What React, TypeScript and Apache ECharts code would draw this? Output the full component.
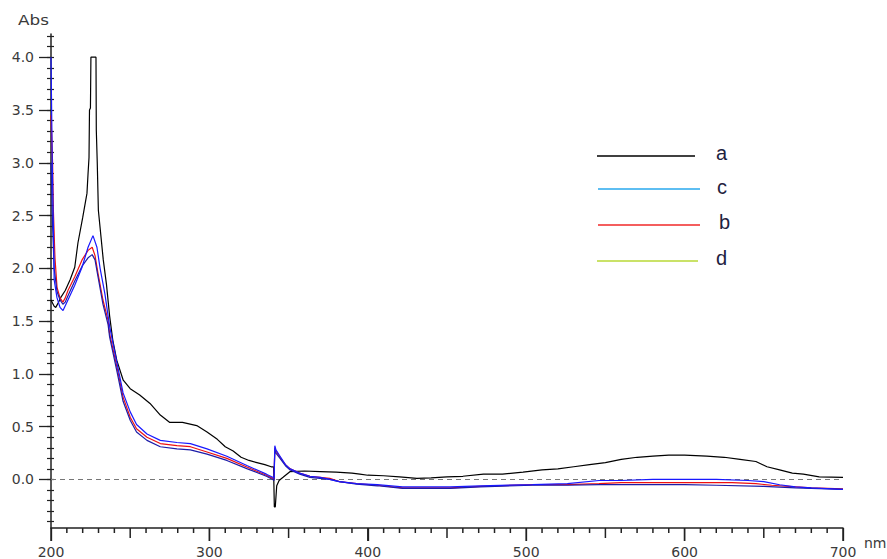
import React, { useEffect, useRef } from "react";
import * as echarts from "echarts";

// ---- data ----
const nmA = [200, 202, 203, 204.5, 206, 209, 212, 215, 217, 220, 222.7, 223.4, 224, 224.3, 224.9, 225.2, 228.4, 228.6, 229.2, 229.9, 233, 235, 237, 239, 241.5, 245.6, 250, 256, 262.5, 269, 275, 283, 292, 298.5, 305, 310, 315, 320, 325, 330, 335, 339, 340.5, 341, 341.6, 342.5, 344, 346.5, 351, 360, 370, 380, 390, 395, 400, 410, 420, 431, 440, 450, 460, 473, 485, 498, 510, 520, 530, 540, 550, 560, 570, 580, 590, 600, 614, 625, 635, 645, 652, 660, 668, 675, 685, 700];
const absA = [1.70, 1.64, 1.63, 1.67, 1.72, 1.79, 1.89, 2.01, 2.24, 2.48, 2.71, 2.90, 3.05, 3.50, 3.52, 4.00, 4.00, 3.31, 3.00, 2.55, 2.08, 1.85, 1.55, 1.32, 1.13, 0.94, 0.86, 0.80, 0.72, 0.61, 0.54, 0.54, 0.51, 0.45, 0.38, 0.31, 0.27, 0.21, 0.18, 0.16, 0.14, 0.12, 0.12, -0.26, -0.26, -0.06, -0.01, 0.02, 0.075, 0.08, 0.075, 0.07, 0.06, 0.05, 0.04, 0.035, 0.025, 0.01, 0.015, 0.025, 0.03, 0.05, 0.05, 0.07, 0.09, 0.10, 0.12, 0.14, 0.16, 0.19, 0.21, 0.22, 0.23, 0.23, 0.22, 0.21, 0.19, 0.17, 0.12, 0.09, 0.06, 0.05, 0.025, 0.02];

const nmB = [200, 201, 201.5, 202.5, 203.8, 205.7, 207.5, 209, 210.7, 215, 219.6, 223.4, 226, 227.8, 229.7, 232.8, 236, 237, 241.7, 245.5, 250, 254, 260.6, 269, 279.5, 288, 298.5, 311, 324, 336, 340, 340.8, 341.3, 342, 344.6, 348, 351, 357, 363.5, 376, 382, 393, 406, 422, 452, 471, 504, 526, 546, 560, 600, 630, 645, 655, 670, 680, 700];
const absB = [3.45, 3.00, 2.55, 2.10, 1.82, 1.72, 1.68, 1.72, 1.79, 1.92, 2.08, 2.17, 2.20, 2.12, 1.95, 1.70, 1.51, 1.38, 1.06, 0.78, 0.59, 0.48, 0.40, 0.34, 0.32, 0.31, 0.26, 0.20, 0.115, 0.04, 0.01, 0.00, 0.30, 0.27, 0.21, 0.14, 0.10, 0.06, 0.03, 0.01, -0.02, -0.04, -0.055, -0.08, -0.08, -0.065, -0.05, -0.05, -0.04, -0.03, -0.03, -0.03, -0.04, -0.055, -0.07, -0.08, -0.09];

const nmC = [200, 200.8, 201.5, 202, 203.8, 205.7, 207.6, 210.7, 215, 219.6, 223.4, 226.5, 229, 231, 234, 237, 241.7, 245.5, 250, 254, 260.6, 269, 279.5, 288, 298.5, 311, 324, 336, 340, 340.8, 341.3, 342, 344.6, 348, 351, 357, 363.5, 370, 376, 382, 393, 406, 422, 452, 471, 504, 526, 546, 560, 580, 600, 620, 640, 650, 660, 670, 680, 700];
const absC = [4.00, 3.00, 2.40, 1.89, 1.72, 1.63, 1.60, 1.70, 1.84, 2.01, 2.20, 2.31, 2.20, 2.00, 1.76, 1.45, 1.10, 0.82, 0.64, 0.52, 0.43, 0.37, 0.35, 0.34, 0.29, 0.22, 0.13, 0.05, 0.02, 0.01, 0.32, 0.28, 0.22, 0.14, 0.10, 0.06, 0.03, 0.02, 0.00, -0.02, -0.04, -0.05, -0.07, -0.07, -0.06, -0.05, -0.04, -0.01, -0.01, 0.00, 0.00, 0.00, -0.01, -0.02, -0.05, -0.07, -0.08, -0.095];

const nmD = [200, 201, 202, 203.8, 205.7, 207.5, 209, 210.7, 215, 219.6, 223.4, 226, 227.8, 229.7, 232.8, 236, 237, 241.7, 245.5, 250, 254, 260.6, 269, 279.5, 288, 298.5, 311, 324, 336, 340, 340.8, 341.3, 342, 344.6, 348, 351, 357, 363.5, 376, 382, 393, 406, 422, 452, 471, 504, 526, 546, 560, 600, 620, 650, 670, 700];
const absD = [3.00, 2.40, 2.00, 1.78, 1.70, 1.66, 1.68, 1.74, 1.88, 2.02, 2.10, 2.13, 2.08, 1.92, 1.66, 1.47, 1.35, 1.02, 0.74, 0.56, 0.45, 0.37, 0.31, 0.29, 0.28, 0.24, 0.18, 0.10, 0.03, 0.00, -0.01, 0.28, 0.25, 0.20, 0.13, 0.09, 0.05, 0.02, 0.00, -0.02, -0.045, -0.06, -0.085, -0.085, -0.07, -0.055, -0.055, -0.05, -0.05, -0.05, -0.055, -0.065, -0.08, -0.095];

// axis ticks (nm): labels every 100, medium ticks every 50, minor ticks every 10
const X_MIN = 200;
const X_MAX = 700;
const xLabelStep = 100;
const xMajorTickValues = [200, 300, 400, 500, 600, 700];
const xMidTickValues = [250, 350, 450, 550, 650];
const xMinorTickValues = [210, 220, 230, 240, 260, 270, 280, 290, 310, 320, 330, 340, 360, 370, 380, 390, 410, 420, 430, 440, 460, 470, 480, 490, 510, 520, 530, 540, 560, 570, 580, 590, 610, 620, 630, 640, 660, 670, 680, 690];
const yLabelValues = [0.0, 0.5, 1.0, 1.5, 2.0, 2.5, 3.0, 3.5, 4.0];
const yMinorTickValues = [-0.4, -0.3, -0.2, -0.1, 0.0, 0.1, 0.2, 0.3, 0.4, 0.5, 0.6, 0.7, 0.8, 0.9, 1.0, 1.1, 1.2, 1.3, 1.4, 1.5, 1.6, 1.7, 1.8, 1.9, 2.0, 2.1, 2.2, 2.3, 2.4, 2.5, 2.6, 2.7, 2.8, 2.9, 3.0, 3.1, 3.2, 3.3, 3.4, 3.5, 3.6, 3.7, 3.8, 3.9, 4.0, 4.1, 4.2];

const legendNames = ["a", "c", "b", "d"];

const pairs = (xs: number[], ys: number[]) => xs.map((x, i) => [x, ys[i]]);

const FONT = '"DejaVu Sans", Verdana, sans-serif';
const LEGEND_FONT = '"Liberation Sans", Arial, sans-serif';
const AXIS_COLOR = "#222";
const LABEL_COLOR = "#3a3a3a";
const Y_MIN = -0.46;
const Y_MAX = 4.22;

export default function App() {
  const ref = useRef<HTMLDivElement>(null);
  useEffect(() => {
    if (!ref.current) return;
    const chart = echarts.init(ref.current, null, { renderer: "svg" });

    const gridRect = { left: 51, top: 34, width: 792, height: 494, containLabel: false, outerBoundsMode: "none" };
    const baseY = { type: "value", min: Y_MIN, max: Y_MAX, position: "left", splitLine: { show: false } };

    const legendColors = ["#000000", "#29a8ee", "#f02828", "#b8d836"];
    const legendLines = [
      { x1: 597, x2: 695, y: 156, tx: 716, ty: 153 },
      { x1: 598, x2: 700, y: 189, tx: 717, ty: 187 },
      { x1: 598, x2: 700, y: 225, tx: 719, ty: 222 },
      { x1: 597, x2: 698, y: 261, tx: 716, ty: 258 },
    ];
    const legendGraphics: any[] = [];
    legendNames.forEach((name, i) => {
      const p = legendLines[i];
      legendGraphics.push({
        type: "line",
        shape: { x1: p.x1, y1: p.y, x2: p.x2, y2: p.y },
        style: { stroke: legendColors[i], lineWidth: 1.6 },
      });
      legendGraphics.push({
        type: "text",
        x: p.tx,
        y: p.ty,
        style: { text: name, fontSize: 20, fontFamily: LEGEND_FONT, fill: "#1e2240", verticalAlign: "middle", align: "left" },
      });
    });

    const lineSeries = (name: string, data: number[][], color: string, z: number) => ({
      name,
      type: "line",
      xAxisIndex: 0,
      yAxisIndex: 0,
      data,
      showSymbol: false,
      symbol: "none",
      lineStyle: { color, width: 1.2 },
      z,
    });

    // x-axis tick marks hanging below the axis line, placed through the axis scale
    const tickSeries = (values: number[], len: number) => ({
      type: "scatter",
      xAxisIndex: 0,
      yAxisIndex: 0,
      silent: true,
      clip: false,
      symbol: "rect",
      symbolSize: [1.5, len],
      symbolOffset: [0, len / 2],
      itemStyle: { color: AXIS_COLOR, opacity: 1 },
      data: values.map((v) => [v, Y_MIN]),
      z: 6,
    });

    chart.setOption({
      animation: false,
      grid: [{ ...gridRect }, { ...gridRect }, { ...gridRect }],
      xAxis: [
        {
          type: "value",
          gridIndex: 0,
          min: X_MIN,
          max: X_MAX,
          interval: xLabelStep,
          splitLine: { show: false },
          axisLine: { show: true, onZero: false, lineStyle: { color: AXIS_COLOR, width: 1.5 } },
          axisTick: { show: true, length: 13, lineStyle: { color: AXIS_COLOR, width: 1.3 } },
          axisLabel: { margin: 17, fontSize: 14, fontFamily: FONT, color: LABEL_COLOR },
        },
        { type: "value", gridIndex: 1, min: X_MIN, max: X_MAX, show: false },
        { type: "value", gridIndex: 2, min: X_MIN, max: X_MAX, show: false },
      ],
      yAxis: [
        {
          ...baseY,
          gridIndex: 0,
          axisLine: { show: true, onZero: false, lineStyle: { color: AXIS_COLOR, width: 1.5 } },
          axisTick: { show: true, customValues: yLabelValues, length: 12, lineStyle: { color: AXIS_COLOR, width: 1.3 } },
          axisLabel: {
            show: true,
            customValues: yLabelValues,
            margin: 17,
            fontSize: 14,
            fontFamily: FONT,
            color: LABEL_COLOR,
            formatter: (v: number) => v.toFixed(1),
          },
        },
        {
          ...baseY,
          gridIndex: 1,
          axisLine: { show: false, onZero: false },
          axisTick: { show: true, customValues: yMinorTickValues, length: 4, lineStyle: { color: AXIS_COLOR, width: 1.2 } },
          axisLabel: { show: false },
        },
        {
          ...baseY,
          gridIndex: 2,
          axisLine: { show: false, onZero: false },
          axisTick: { show: true, inside: true, customValues: yMinorTickValues, length: 3, lineStyle: { color: AXIS_COLOR, width: 1.2 } },
          axisLabel: { show: false },
        },
      ],
      series: [
        {
          ...lineSeries("a", pairs(nmA, absA), "#000000", 2),
          markLine: {
            silent: true,
            symbol: "none",
            label: { show: false },
            lineStyle: { color: "#777", type: [5, 4], width: 1 },
            data: [{ yAxis: 0 }],
            z: 1,
          },
        },
        lineSeries("b", pairs(nmB, absB), "#ee1010", 3),
        lineSeries("d", pairs(nmD, absD), "#1c1ca8", 4),
        lineSeries("c", pairs(nmC, absC), "#1818ff", 5),
        tickSeries(xMajorTickValues, 13),
        tickSeries(xMidTickValues, 10),
        tickSeries(xMinorTickValues, 5),
      ],
      graphic: [
        { type: "text", x: 18, y: 20, scaleX: 1.2, style: { text: "Abs", fontSize: 14, fontFamily: FONT, fill: LABEL_COLOR, verticalAlign: "middle" } },
        { type: "text", x: 864, y: 543, style: { text: "nm", fontSize: 14, fontFamily: FONT, fill: LABEL_COLOR, verticalAlign: "middle" } },
        ...legendGraphics,
      ],
    });
    return () => chart.dispose();
  }, []);
  return <div ref={ref} style={{ position: "fixed", left: 0, top: 0, width: 887, height: 559, background: "#fff" }} />;
}
